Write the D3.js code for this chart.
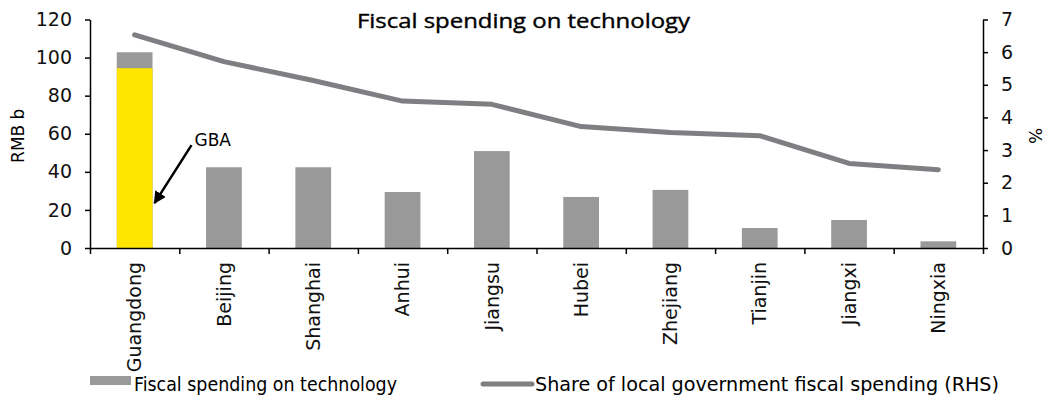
<!DOCTYPE html>
<html>
<head>
<meta charset="utf-8">
<script src="https://cdn.jsdelivr.net/npm/d3@7"></script>
<style>
  body { margin: 0; background: #fff; }
  svg { display: block; }
  .tick text { font-family: "DejaVu Sans", Verdana, sans-serif; font-size: 19px; fill: #111; }
  .domain, .tick line { stroke: #000; stroke-width: 1.5; }
</style>
</head>
<body>
<svg width="1045" height="406"></svg>
<script>
// data
const provinces = ['Guangdong', 'Beijing', 'Shanghai', 'Anhui', 'Jiangsu', 'Hubei', 'Zhejiang', 'Tianjin', 'Jiangxi', 'Ningxia'];
const spending = [102.8, 42.4, 42.4, 29.4, 50.9, 26.8, 30.5, 10.5, 14.7, 3.5];   // RMB b
const gbaPart = [94.4, 0, 0, 0, 0, 0, 0, 0, 0, 0];                                // GBA portion of Guangdong
const share = [6.53, 5.71, 5.13, 4.5, 4.4, 3.72, 3.54, 3.44, 2.59, 2.4];           // % (RHS)
const leftTicks = [0, 20, 40, 60, 80, 100, 120];
const rightTicks = [0, 1, 2, 3, 4, 5, 6, 7];

const title = 'Fiscal spending on technology';
const svg = d3.select('svg');
const margin = { left: 90, right: 62, top: 19.5, bottom: 158 };
const width = +svg.attr('width'), height = +svg.attr('height');
const inner = { width: width - margin.left - margin.right, height: height - margin.top - margin.bottom };

const g = svg.append('g').attr('transform', `translate(${margin.left},${margin.top})`);

const x = d3.scaleBand().domain(provinces).range([0, inner.width]).paddingInner(0.6).paddingOuter(0.3);
const xEdge = d3.scaleLinear().domain([0, provinces.length]).range([0, inner.width]);
const yL = d3.scaleLinear().domain([0, 120]).range([inner.height, 0]);
const yR = d3.scaleLinear().domain([0, 7]).range([inner.height, 0]);

const grey = '#999999', yellow = '#FFE600', lineCol = '#7f7e83';

// bars
g.selectAll('rect.bar').data(provinces).enter().append('rect')
    .attr('class', 'bar')
    .attr('x', d => x(d))
    .attr('width', x.bandwidth())
    .attr('y', (d, i) => yL(spending[i]))
    .attr('height', (d, i) => inner.height - yL(spending[i]))
    .attr('fill', grey);
g.selectAll('rect.gba').data(provinces.filter((d, i) => gbaPart[i] > 0)).enter().append('rect')
    .attr('class', 'gba')
    .attr('x', d => x(d))
    .attr('width', x.bandwidth())
    .attr('y', d => yL(gbaPart[provinces.indexOf(d)]))
    .attr('height', d => inner.height - yL(gbaPart[provinces.indexOf(d)]))
    .attr('fill', yellow);

// line
const line = d3.line()
    .x((d, i) => x(provinces[i]) + x.bandwidth() / 2)
    .y(d => yR(d));
g.append('path').datum(share)
    .attr('d', line)
    .attr('fill', 'none')
    .attr('stroke', lineCol)
    .attr('stroke-width', 5)
    .attr('stroke-linecap', 'round')
    .attr('stroke-linejoin', 'round');

// axes
g.append('g').call(d3.axisLeft(yL).tickValues(leftTicks).tickSize(5).tickSizeOuter(0).tickPadding(13));
g.append('g').attr('transform', `translate(${inner.width},0)`)
    .call(d3.axisRight(yR).tickValues(rightTicks).tickFormat(d3.format('d')).tickSize(5).tickSizeOuter(0).tickPadding(13));
g.append('g').attr('transform', `translate(0,${inner.height})`)
    .call(d3.axisBottom(xEdge).tickValues(d3.range(provinces.length + 1)).tickFormat('').tickSize(6).tickSizeOuter(0));

g.append('g').selectAll('text').data(provinces).enter().append('text')
    .attr('transform', d => `translate(${x(d) + x.bandwidth() / 2},${inner.height + 14}) rotate(-90)`)
    .attr('text-anchor', 'end')
    .attr('dy', '0.35em')
    .attr('font-family', '"DejaVu Sans", Verdana, sans-serif')
    .attr('font-size', 19)
    .attr('fill', '#111')
    .text(d => d);

// axis titles
svg.append('text')
    .attr('transform', `translate(24,${margin.top + inner.height / 2 + 2}) rotate(-90)`)
    .attr('text-anchor', 'middle')
    .attr('font-family', '"DejaVu Sans", Verdana, sans-serif')
    .attr('font-size', 17)
    .text('RMB b');
svg.append('text')
    .attr('transform', `translate(1029,${margin.top + inner.height / 2 + 2}) rotate(90)`)
    .attr('text-anchor', 'middle')
    .attr('font-family', '"DejaVu Sans", Verdana, sans-serif')
    .attr('font-size', 17)
    .text('%');

// title
svg.append('text')
    .attr('x', 357).attr('y', 28)
    .attr('font-family', '"Open Sans", Lato, sans-serif')
    .attr('font-size', 20.5)
    .attr('stroke', '#000').attr('stroke-width', 0.4)
    .attr('textLength', 333).attr('lengthAdjust', 'spacingAndGlyphs')
    .text(title);

// GBA annotation
svg.append('defs').append('marker')
    .attr('id', 'arrow')
    .attr('viewBox', '0 0 10 10')
    .attr('refX', 9).attr('refY', 5)
    .attr('markerWidth', 5).attr('markerHeight', 5)
    .attr('orient', 'auto')
    .append('path').attr('d', 'M0,0 L10,5 L0,10 z').attr('fill', '#000');
const gx = x('Guangdong') + x.bandwidth();
g.append('line')
    .attr('x1', gx + 39).attr('y1', yL(54))
    .attr('x2', gx + 2).attr('y2', yL(23.6))
    .attr('stroke', '#000').attr('stroke-width', 2.5)
    .attr('marker-end', 'url(#arrow)');
g.append('text')
    .attr('x', gx + 42).attr('y', yL(53.5))
    .attr('font-family', '"DejaVu Sans", Verdana, sans-serif')
    .attr('font-size', 17)
    .text('GBA');

// legend
const leg = svg.append('g').attr('font-family', '"Liberation Sans Narrow", "DejaVu Sans Condensed", "Liberation Sans", sans-serif').attr('font-size', 19);
leg.append('rect').attr('x', 90).attr('y', 376).attr('width', 41).attr('height', 9).attr('fill', grey);
leg.append('text').attr('x', 134).attr('y', 391)
    .attr('textLength', 263).attr('lengthAdjust', 'spacingAndGlyphs')
    .text('Fiscal spending on technology');
leg.append('line').attr('x1', 483).attr('x2', 532).attr('y1', 384).attr('y2', 384)
    .attr('stroke', lineCol).attr('stroke-width', 5).attr('stroke-linecap', 'round');
leg.append('text').attr('x', 535).attr('y', 391)
    .attr('textLength', 464).attr('lengthAdjust', 'spacingAndGlyphs')
    .text('Share of local government fiscal spending (RHS)');
</script>
</body>
</html>
